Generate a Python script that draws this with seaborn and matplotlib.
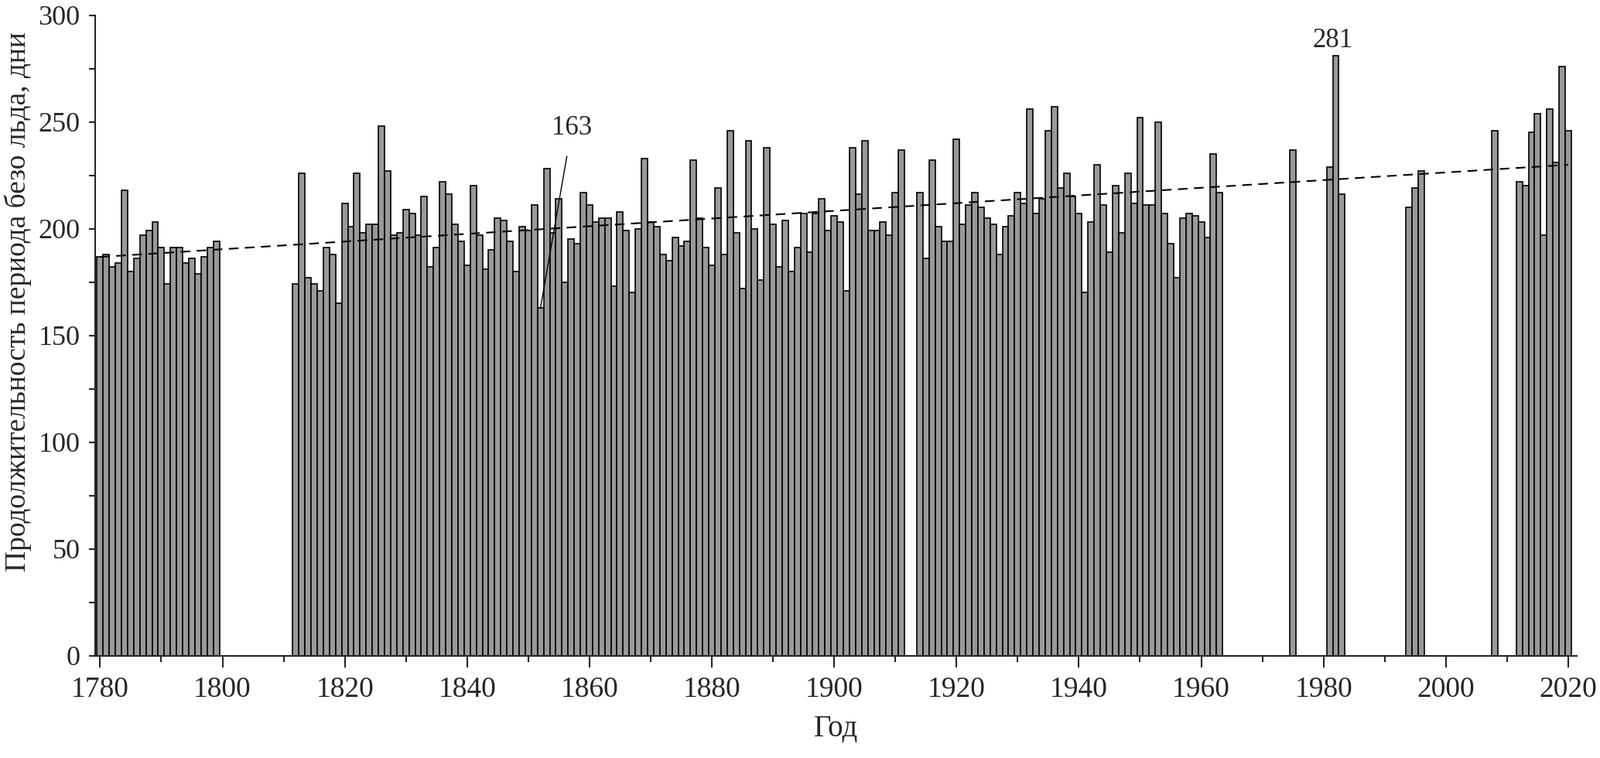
import numpy as np
import pandas as pd
import seaborn as sns
from matplotlib import pyplot as plt
from matplotlib.ticker import MultipleLocator

# ice-free period length (days) by year, gaps = no data
years_1 = list(range(1780, 1800))
days_1 = [187, 188, 182, 184, 218, 180, 186, 197, 199, 203,
          191, 174, 191, 191, 184, 186, 179, 187, 191, 194]

years_2 = list(range(1812, 1912))
days_2 = [174, 226, 177, 174, 171, 191, 188, 165, 212, 201,
          226, 198, 202, 202, 248, 227, 197, 198, 209, 207,
          197, 215, 182, 191, 222, 216, 202, 194, 183, 220,
          197, 181, 190, 205, 204, 194, 180, 201, 199, 211,
          163, 228, 198, 214, 175, 195, 193, 217, 211, 203,
          205, 205, 173, 208, 199, 170, 200, 233, 203, 201,
          188, 185, 196, 192, 194, 232, 205, 191, 183, 219,
          188, 246, 198, 172, 241, 200, 176, 238, 202, 182,
          204, 180, 191, 207, 189, 207, 214, 199, 206, 203,
          171, 238, 216, 241, 199, 199, 203, 197, 217, 237]

years_3 = list(range(1914, 1964))
days_3 = [217, 186, 232, 201, 194, 194, 242, 202, 211, 217,
          210, 205, 202, 188, 201, 206, 217, 212, 256, 207,
          214, 246, 257, 219, 226, 215, 207, 170, 203, 230,
          211, 189, 220, 198, 226, 212, 252, 211, 211, 250,
          207, 193, 177, 205, 207, 206, 203, 196, 235, 217]

years_4 = [1975, 1981, 1982, 1983, 1994, 1995, 1996, 2008,
           2012, 2013, 2014, 2015, 2016, 2017, 2018, 2019, 2020]
days_4 = [237, 229, 281, 216, 210, 219, 227, 246,
          222, 220, 245, 254, 197, 256, 231, 276, 246]

df = pd.DataFrame({"year": years_1 + years_2 + years_3 + years_4,
                   "days": days_1 + days_2 + days_3 + days_4})

sns.set_style("ticks")
plt.rcParams["font.family"] = ["Liberation Serif", "DejaVu Serif"]
plt.rcParams["font.size"] = 24

fig, ax = plt.subplots(figsize=(20.68, 9.8), dpi=100)
fig.subplots_adjust(left=0.0595, right=0.9855, top=0.980, bottom=0.135)

sns.barplot(data=df, x="year", y="days", native_scale=True, width=1,
            color="#999999", saturation=1, edgecolor="black", linewidth=1.2,
            errorbar=None, ax=ax)

sns.regplot(data=df, x="year", y="days", scatter=False, ci=None, truncate=True,
            line_kws={"color": "black", "linestyle": (0, (6, 4)), "linewidth": 1.5},
            ax=ax)

# labelled extremes
ax.annotate("163", xy=(1852, 163), xytext=(1857.1, 247), ha="center", va="center",
            fontsize=25, arrowprops=dict(arrowstyle="-", color="black", lw=1,
                                         shrinkA=12, shrinkB=0))
ax.text(1981.5, 288, "281", ha="center", va="center", fontsize=25)

ax.set_xlim(1779.2, 2021.4)
ax.set_ylim(0, 300)
ax.xaxis.set_major_locator(MultipleLocator(20))
ax.xaxis.set_minor_locator(MultipleLocator(10))
ax.yaxis.set_major_locator(MultipleLocator(50))
ax.yaxis.set_minor_locator(MultipleLocator(25))
ax.tick_params(axis="x", which="major", length=11, width=1.5, labelsize=27, pad=8)
ax.tick_params(axis="x", which="minor", length=6, width=1.5)
ax.tick_params(axis="y", which="both", length=6, width=1.5, labelsize=26, pad=8)
for s in ["left", "bottom"]:
    ax.spines[s].set_linewidth(1.5)
sns.despine(ax=ax)

ax.set_xlabel("Год", fontsize=28, labelpad=11)
ax.set_ylabel("Продолжительность периода безо льда, дни", fontsize=27,
              labelpad=6, y=0.553)

fig.savefig("out.png", dpi=100)
